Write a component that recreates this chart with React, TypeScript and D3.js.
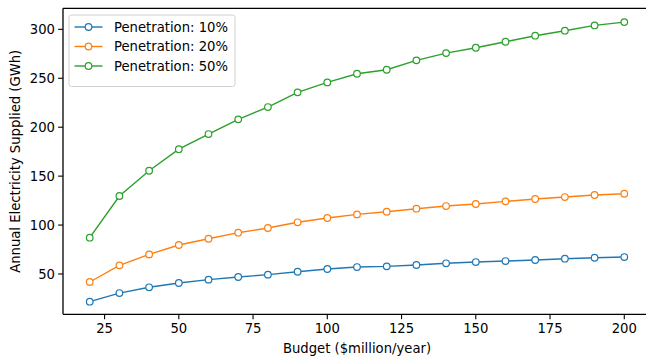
import React from "react";
import * as d3 from "d3";

const budgets = [20, 30, 40, 50, 60, 70, 80, 90, 100, 110, 120, 130, 140, 150, 160, 170, 180, 190, 200];
const pen10 = [21.7, 30.5, 36.4, 40.8, 44.2, 46.9, 49.3, 52.3, 55.1, 57.1, 57.8, 59.2, 60.9, 62.2, 63.2, 64.3, 65.6, 66.6, 67.3];
const pen20 = [41.8, 58.8, 70.0, 79.6, 86.0, 92.2, 97.0, 102.8, 107.2, 110.9, 113.6, 116.7, 119.4, 121.5, 124.2, 126.6, 128.6, 130.7, 132.0];
const pen50 = [87.1, 129.7, 155.5, 177.5, 193.0, 208.0, 220.6, 235.6, 245.8, 254.6, 258.7, 268.3, 275.7, 281.2, 287.3, 293.5, 298.6, 304.0, 307.4];
const seriesNames = ["Penetration: 10%", "Penetration: 20%", "Penetration: 50%"];
const seriesColors = ["#1f77b4", "#ff7f0e", "#2ca02c"];
const xTicks = [25, 50, 75, 100, 125, 150, 175, 200];
const yTicks = [50, 100, 150, 200, 250, 300];

export default function App() {
  const W = 646, H = 361;
  const left = 63, right = 651, top = 8.3, bottom = 314.3;
  const x = d3.scaleLinear().domain([11, 209]).range([left, right]);
  const y = d3.scaleLinear().domain([8.8, 321.5]).range([bottom, top]);
  const all = [pen10, pen20, pen50];
  const line = d3.line<number>().x((_, i) => x(budgets[i])).y((d) => y(d));
  const font = "DejaVu Sans, sans-serif";
  const fs = 13.2;
  return (
    <svg width={W} height={H} style={{ position: "absolute", left: 0, top: 0 }} fontFamily={font}>
      <rect width={W} height={H} fill="#fff" />
      {all.map((s, k) => (
        <g key={k}>
          <path d={line(s) || ""} fill="none" stroke={seriesColors[k]} strokeWidth={1.4} />
          {s.map((v, i) => (
            <circle key={i} cx={x(budgets[i])} cy={y(v)} r={3.3} fill="#fff" stroke={seriesColors[k]} strokeWidth={1.2} />
          ))}
        </g>
      ))}
      {/* spines */}
      <line x1={left} x2={left} y1={top} y2={bottom} stroke="#000" strokeWidth={1.3} />
      <line x1={left} x2={right} y1={bottom} y2={bottom} stroke="#000" strokeWidth={1.3} />
      <line x1={left} x2={right} y1={top} y2={top} stroke="#000" strokeWidth={1.3} />
      <line x1={right} x2={right} y1={top} y2={bottom} stroke="#000" strokeWidth={1.3} />
      {xTicks.map((t) => (
        <g key={t}>
          <line x1={x(t)} x2={x(t)} y1={bottom} y2={bottom + 4.9} stroke="#000" strokeWidth={1.1} />
          <text x={x(t)} y={bottom + 18.5} textAnchor="middle" fontSize={fs} fill="#000">{t}</text>
        </g>
      ))}
      {yTicks.map((t) => (
        <g key={t}>
          <line x1={left - 4.9} x2={left} y1={y(t)} y2={y(t)} stroke="#000" strokeWidth={1.1} />
          <text x={left - 8} y={y(t)} dy="0.36em" textAnchor="end" fontSize={fs} fill="#000">{t}</text>
        </g>
      ))}
      <text x={(left + right) / 2} y={353} textAnchor="middle" fontSize={fs} fill="#000">Budget ($million/year)</text>
      <text transform={`translate(20,${(top + bottom) / 2}) rotate(-90)`} textAnchor="middle" fontSize={fs} fill="#000">Annual Electricity Supplied (GWh)</text>
      {/* legend */}
      <rect x={69} y={15} width={166} height={71.5} rx={2.5} fill="#fff" fillOpacity={0.8} stroke="#d0d0d0" strokeWidth={1} />
      {seriesNames.map((n, k) => {
        const ly = 27 + k * 19.5;
        return (
          <g key={n}>
            <line x1={74.5} x2={102.5} y1={ly} y2={ly} stroke={seriesColors[k]} strokeWidth={1.4} />
            <circle cx={88.5} cy={ly} r={3.3} fill="#fff" stroke={seriesColors[k]} strokeWidth={1.2} />
            <text x={114} y={ly} dy="0.36em" fontSize={fs} fill="#000">{n}</text>
          </g>
        );
      })}
    </svg>
  );
}
